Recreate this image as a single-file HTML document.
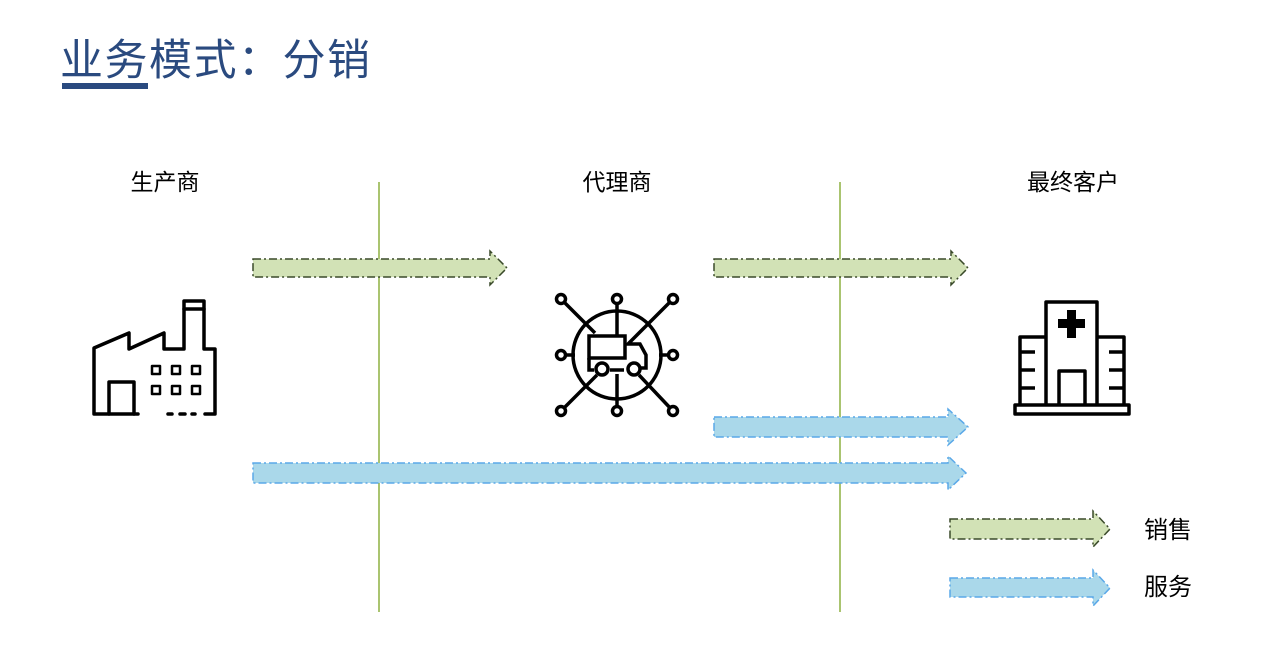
<!DOCTYPE html>
<html><head><meta charset="utf-8"><style>
body{margin:0;background:#fff;width:1280px;height:656px;overflow:hidden}
svg text{font-family:"Liberation Sans","Noto Sans CJK SC",sans-serif}
</style></head><body>
<svg width="1280" height="656" viewBox="0 0 1280 656" xmlns="http://www.w3.org/2000/svg">
<text x="60" y="75" font-size="43" fill="#2a4a7f" textLength="310">业务模式：分销</text>
<rect x="62" y="83" width="86" height="6" fill="#2a4a7f"/>
<g font-size="23" fill="#000" text-anchor="middle">
<text x="165" y="190">生产商</text>
<text x="617" y="190">代理商</text>
<text x="1073" y="190">最终客户</text>
</g>
<g font-size="24" fill="#000">
<text x="1144" y="538">销售</text>
<text x="1144" y="595">服务</text>
</g>
<line x1="379" y1="182" x2="379" y2="612" stroke="#8db040" stroke-width="1.5"/>
<line x1="840" y1="182" x2="840" y2="612" stroke="#8db040" stroke-width="1.5"/>
<g fill="#d2e2b6" stroke="#3a4a2a" stroke-width="1.5" stroke-dasharray="8,3,2,3">
<path d="M253 259H490V251L507 268L490 285V277H253Z"/>
<path d="M714 259H951V251L968 268L951 285V277H714Z"/>
<path d="M950 519H1093V511L1110 529L1093 547V539H950Z"/>
</g>
<g fill="#aad8ea" stroke="#5aa8e8" stroke-width="1.5" stroke-dasharray="8,3,2,3">
<path d="M714 417H948V409L968 427L948 445V437H714Z"/>
<path d="M253 463H948V456L966 473L948 490V483H253Z"/>
<path d="M950 578H1093V570L1110 588L1093 606V597H950Z"/>
</g>
<!-- factory -->
<g fill="none" stroke="#000" stroke-width="3.5" stroke-linejoin="round" stroke-linecap="round">
<path d="M138 414H94V348L129 333V349L164 333V349H184V301H204V349H215V414H205"/>
<path d="M184 309H204"/>
<path d="M109 414V382H134V414"/>
<path d="M168 414H172M180 414H185M192 414H195"/>
<g stroke-width="2.5">
<rect x="152" y="366" width="8" height="8"/><rect x="172" y="366" width="8" height="8"/><rect x="192" y="366" width="8" height="8"/>
<rect x="152" y="386" width="8" height="8"/><rect x="172" y="386" width="8" height="8"/><rect x="192" y="386" width="8" height="8"/>
</g>
</g>
<!-- network -->
<g fill="none" stroke="#000" stroke-width="3.5">
<circle cx="617" cy="355" r="44"/>
<path d="M617 300V336M617 374V410M562 355H575M659 355H672M561 299L595 333M673 299L628 344H640L646 355V368H640M561 411L597 375M673 411L639 375"/>
<rect x="589" y="336" width="36" height="22"/>
<path d="M589 358V370H594M610 370H624"/>
<circle cx="602" cy="369" r="6" fill="#fff"/>
<circle cx="634" cy="369" r="6" fill="#fff"/>
<g fill="#fff">
<circle cx="561" cy="299" r="4.5"/><circle cx="617" cy="299" r="4.5"/><circle cx="673" cy="299" r="4.5"/>
<circle cx="561" cy="355" r="4.5"/><circle cx="673" cy="355" r="4.5"/>
<circle cx="561" cy="411" r="4.5"/><circle cx="617" cy="411" r="4.5"/><circle cx="673" cy="411" r="4.5"/>
</g>
</g>
<!-- hospital -->
<g fill="none" stroke="#000" stroke-width="3.5" stroke-linejoin="round">
<path d="M1046 405V302H1097V405"/>
<path d="M1046 337H1020V405M1097 337H1124V405"/>
<rect x="1015" y="405" width="114" height="9"/>
<path d="M1059 405V371H1085V405"/>
<path d="M1020 352H1035M1020 370H1035M1020 388H1035M1109 352H1124M1109 370H1124M1109 388H1124"/>
</g>
<path d="M1067 310H1076V319H1085V328H1076V338H1067V328H1058V319H1067Z" fill="#000"/>
</svg>
</body></html>
